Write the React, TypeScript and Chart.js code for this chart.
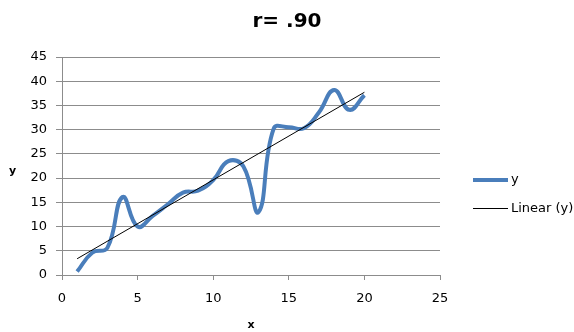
import React, { useEffect, useRef } from 'react';
import { Chart, registerables, layouts } from 'chart.js';

Chart.register(...registerables);

const FONT = "'DejaVu Sans', 'Liberation Sans', sans-serif";

const chartTitle = 'r= .90';
const xAxisTitle = 'x';
const yAxisTitle = 'y';
const seriesName = 'y';
const trendName = 'Linear (y)';

const xValues = [1, 2, 3, 4, 5, 6, 7, 8, 9, 10, 11, 12, 13, 14, 15, 16, 17, 18, 19, 20];
const yValues = [0.7, 4.6, 5.6, 16.1, 10.0, 12.2, 14.6, 17.0, 17.4, 19.6, 23.5, 22.4, 13.0, 30.2, 30.5, 30.3, 33.6, 38.2, 34.1, 37.1];

const xAxisMin = 0;
const xAxisMax = 25;
const xAxisStep = 5;
const yAxisMin = 0;
const yAxisMax = 45;
const yAxisStep = 5;

function linearFit(xs: number[], ys: number[]) {
  const n = xs.length;
  const mx = xs.reduce((a, b) => a + b, 0) / n;
  const my = ys.reduce((a, b) => a + b, 0) / n;
  let sxy = 0;
  let sxx = 0;
  for (let i = 0; i < n; i++) {
    sxy += (xs[i] - mx) * (ys[i] - my);
    sxx += (xs[i] - mx) * (xs[i] - mx);
  }
  const slope = sxy / sxx;
  return { slope, intercept: my - slope * mx };
}

export default function App() {
  const canvasRef = useRef<HTMLCanvasElement>(null);

  useEffect(() => {
    const canvas = canvasRef.current;
    if (!canvas) return;

    const fit = linearFit(xValues, yValues);
    const xFirst = Math.min(...xValues);
    const xLast = Math.max(...xValues);

    const seriesPoints = xValues.map((x, i) => ({ x, y: yValues[i] }));
    const trendPoints = [xFirst, xLast].map((x) => ({ x, y: fit.intercept + fit.slope * x }));

    const legendBox: any = {
      position: 'right',
      weight: 10,
      fullSize: false,
      options: { stackWeight: 1 },
      top: 0,
      left: 0,
      right: 0,
      bottom: 0,
      width: 0,
      height: 0,
      chart: null as any,
      isHorizontal() {
        return false;
      },
      update(_maxWidth: number, maxHeight: number) {
        this.width = 134;
        this.height = maxHeight;
      },
      draw() {
        const chart = this.chart;
        if (!chart) return;
        const ctx = chart.ctx;
        const datasets = chart.data.datasets;
        ctx.save();
        datasets.forEach((ds: any, i: number) => {
          const lw = ds.borderWidth;
          const yPos = 180 + i * 28 + (lw % 2 === 1 ? 0.5 : 0);
          const x0 = this.left + 33;
          const x1 = x0 + 35;
          ctx.beginPath();
          ctx.strokeStyle = ds.borderColor;
          ctx.lineWidth = lw;
          ctx.lineCap = 'butt';
          ctx.moveTo(x0, yPos);
          ctx.lineTo(x1, yPos);
          ctx.stroke();
          ctx.fillStyle = '#000000';
          ctx.font = `13px ${FONT}`;
          ctx.textAlign = 'left';
          ctx.textBaseline = 'middle';
          ctx.fillText(ds.label, x1 + 3, Math.round(yPos));
        });
        ctx.restore();
      },
    };

    const decorPlugin = {
      id: 'excelDecor',
      beforeInit(chart: any) {
        legendBox.chart = chart;
        layouts.addBox(chart, legendBox);
      },
      afterDraw(chart: any) {
        const ctx = chart.ctx;
        const area = chart.chartArea;
        ctx.save();
        ctx.fillStyle = '#000000';
        ctx.font = `bold 11px ${FONT}`;
        ctx.textAlign = 'center';
        ctx.textBaseline = 'middle';
        ctx.fillText(yAxisTitle, 12.5, (area.top + area.bottom) / 2 + 5);
        ctx.restore();
      },
    };

    const gridColor = '#8c8c8c';

    const chart = new Chart(canvas, {
      type: 'scatter',
      data: {
        datasets: [
          {
            label: seriesName,
            data: seriesPoints,
            showLine: true,
            borderColor: '#4a7ebb',
            backgroundColor: '#4a7ebb',
            borderWidth: 4,
            pointRadius: 0,
            pointHoverRadius: 0,
            tension: 0.45,
            order: 1,
          },
          {
            label: trendName,
            data: trendPoints,
            showLine: true,
            borderColor: '#000000',
            backgroundColor: '#000000',
            borderWidth: 1,
            pointRadius: 0,
            pointHoverRadius: 0,
            tension: 0,
            order: 0,
          },
        ],
      },
      options: {
        animation: false,
        responsive: false,
        layout: { padding: 0 },
        plugins: {
          legend: { display: false },
          tooltip: { enabled: false },
          title: {
            display: true,
            text: chartTitle,
            color: '#000000',
            font: { family: FONT, size: 20, weight: 'bold' },
            padding: { top: 10, bottom: 23 },
          },
        },
        scales: {
          x: {
            type: 'linear',
            min: xAxisMin,
            max: xAxisMax,
            ticks: {
              stepSize: xAxisStep,
              color: '#000000',
              font: { family: FONT, size: 13 },
              padding: 11,
              maxRotation: 0,
            },
            grid: {
              drawOnChartArea: false,
              drawTicks: true,
              tickLength: 5,
              color: gridColor,
              tickColor: gridColor,
            },
            border: { display: true, color: gridColor, width: 1 },
            title: {
              display: true,
              text: xAxisTitle,
              color: '#000000',
              font: { family: FONT, size: 11, weight: 'bold' },
              padding: { top: 0, bottom: 0 },
            },
            afterFit: (scale: any) => {
              scale.height = 57;
            },
          },
          y: {
            type: 'linear',
            min: yAxisMin,
            max: yAxisMax,
            ticks: {
              stepSize: yAxisStep,
              color: '#000000',
              font: { family: FONT, size: 13 },
              padding: 9,
            },
            grid: {
              drawOnChartArea: true,
              drawTicks: true,
              tickLength: 6,
              color: gridColor,
              tickColor: gridColor,
              lineWidth: 1,
            },
            border: { display: true, color: gridColor, width: 1 },
            afterFit: (scale: any) => {
              scale.width = 62;
            },
          },
        },
      },
      plugins: [decorPlugin as any],
    });

    return () => {
      chart.destroy();
    };
  }, []);

  return (
    <div style={{ position: 'absolute', left: 0, top: 0, width: 574, height: 332, background: '#ffffff' }}>
      <canvas ref={canvasRef} width={574} height={332} />
    </div>
  );
}
